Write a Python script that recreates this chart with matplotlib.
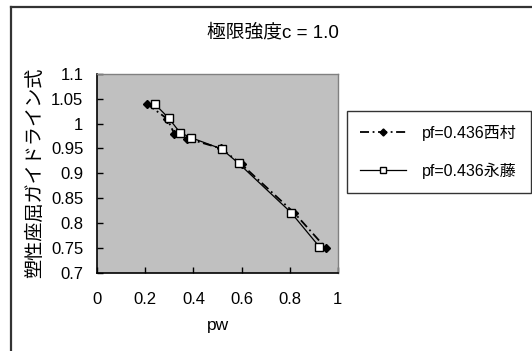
import matplotlib
matplotlib.use("Agg")
import matplotlib.pyplot as plt
from matplotlib.lines import Line2D

plt.rcParams['font.family'] = ['Liberation Sans', 'Noto Sans CJK JP', 'DejaVu Sans']

# Data
nishimura_x = [0.205, 0.29, 0.32, 0.375, 0.515, 0.60, 0.82, 0.95]
nishimura_y = [1.04, 1.01, 0.98, 0.97, 0.95, 0.918, 0.82, 0.75]
nagato_x = [0.238, 0.297, 0.344, 0.388, 0.517, 0.588, 0.806, 0.924]
nagato_y = [1.04, 1.011, 0.982, 0.972, 0.949, 0.92, 0.821, 0.752]
series_labels = ["pf=0.436西村", "pf=0.436永藤"]
title_text = "極限強度c = 1.0"
x_label = "pw"
y_label = "塑性座屈ガイドライン式"
x_ticks = [0, 0.2, 0.4, 0.6, 0.8, 1]
x_ticklabels = ["0", "0.2", "0.4", "0.6", "0.8", "1"]
y_ticks = [0.7, 0.75, 0.8, 0.85, 0.9, 0.95, 1.0, 1.05, 1.1]
y_ticklabels = ["0.7", "0.75", "0.8", "0.85", "0.9", "0.95", "1", "1.05", "1.1"]

fig = plt.figure(figsize=(5.32, 3.51), dpi=100)
fig.patch.set_facecolor('white')
ax = fig.add_axes([97.3/532, 1-272.7/351, (337.7-97.3)/532, (272.7-73.9)/351])
ax.set_facecolor('#c0c0c0')

l1, = ax.plot(nishimura_x, nishimura_y, color='black', linestyle=(0, (5, 2, 1, 2)), linewidth=1.3,
              marker='D', markersize=4.2, markerfacecolor='black', markeredgecolor='black', zorder=3)
l2, = ax.plot(nagato_x, nagato_y, color='black', linestyle='-', linewidth=0.9,
              marker='s', markersize=5.5, markerfacecolor='white', markeredgecolor='black',
              markeredgewidth=1.0, zorder=4)

ax.set_xlim(0, 1)
ax.set_ylim(0.7, 1.1)
ax.set_xticks(x_ticks)
ax.set_xticklabels(x_ticklabels)
ax.set_yticks(y_ticks)
ax.set_yticklabels(y_ticklabels)
ax.tick_params(axis='both', direction='in', length=4, width=1, labelsize=12, colors='black')
ax.tick_params(axis='x', pad=14)
ax.tick_params(axis='y', pad=10)
for s in ['left', 'bottom']:
    ax.spines[s].set_color('black')
    ax.spines[s].set_linewidth(1.2)
for s in ['top', 'right']:
    ax.spines[s].set_color('#808080')
    ax.spines[s].set_linewidth(1.0)

ax.set_xlabel(x_label, fontsize=12.5, labelpad=8)
ax.set_ylabel(y_label, fontsize=13.8, labelpad=5)

fig.text(273.4/532, 1-32.3/351, title_text, fontsize=13.5, ha='center', va='center')

leg = fig.legend([l1, l2], series_labels, loc='upper left',
                 bbox_to_anchor=(346.5/532, 1-111.4/351), bbox_transform=fig.transFigure,
                 fontsize=11.5, frameon=True, fancybox=False, shadow=False,
                 handlelength=2.9, handletextpad=1.0, labelspacing=1.35, borderpad=0.85,
                 borderaxespad=0, markerscale=0.85)
leg.get_frame().set_edgecolor('black')
leg.get_frame().set_linewidth(1.0)

# Outer chart border (top and left visible)
fig.add_artist(Line2D([10.7/532, 1.0], [1-7.3/351, 1-7.3/351], transform=fig.transFigure,
                      color='#333333', linewidth=1.6))
fig.add_artist(Line2D([10.7/532, 10.7/532], [1-7.3/351, 0], transform=fig.transFigure,
                      color='#333333', linewidth=1.6))

fig.savefig('out.png', dpi=100)
